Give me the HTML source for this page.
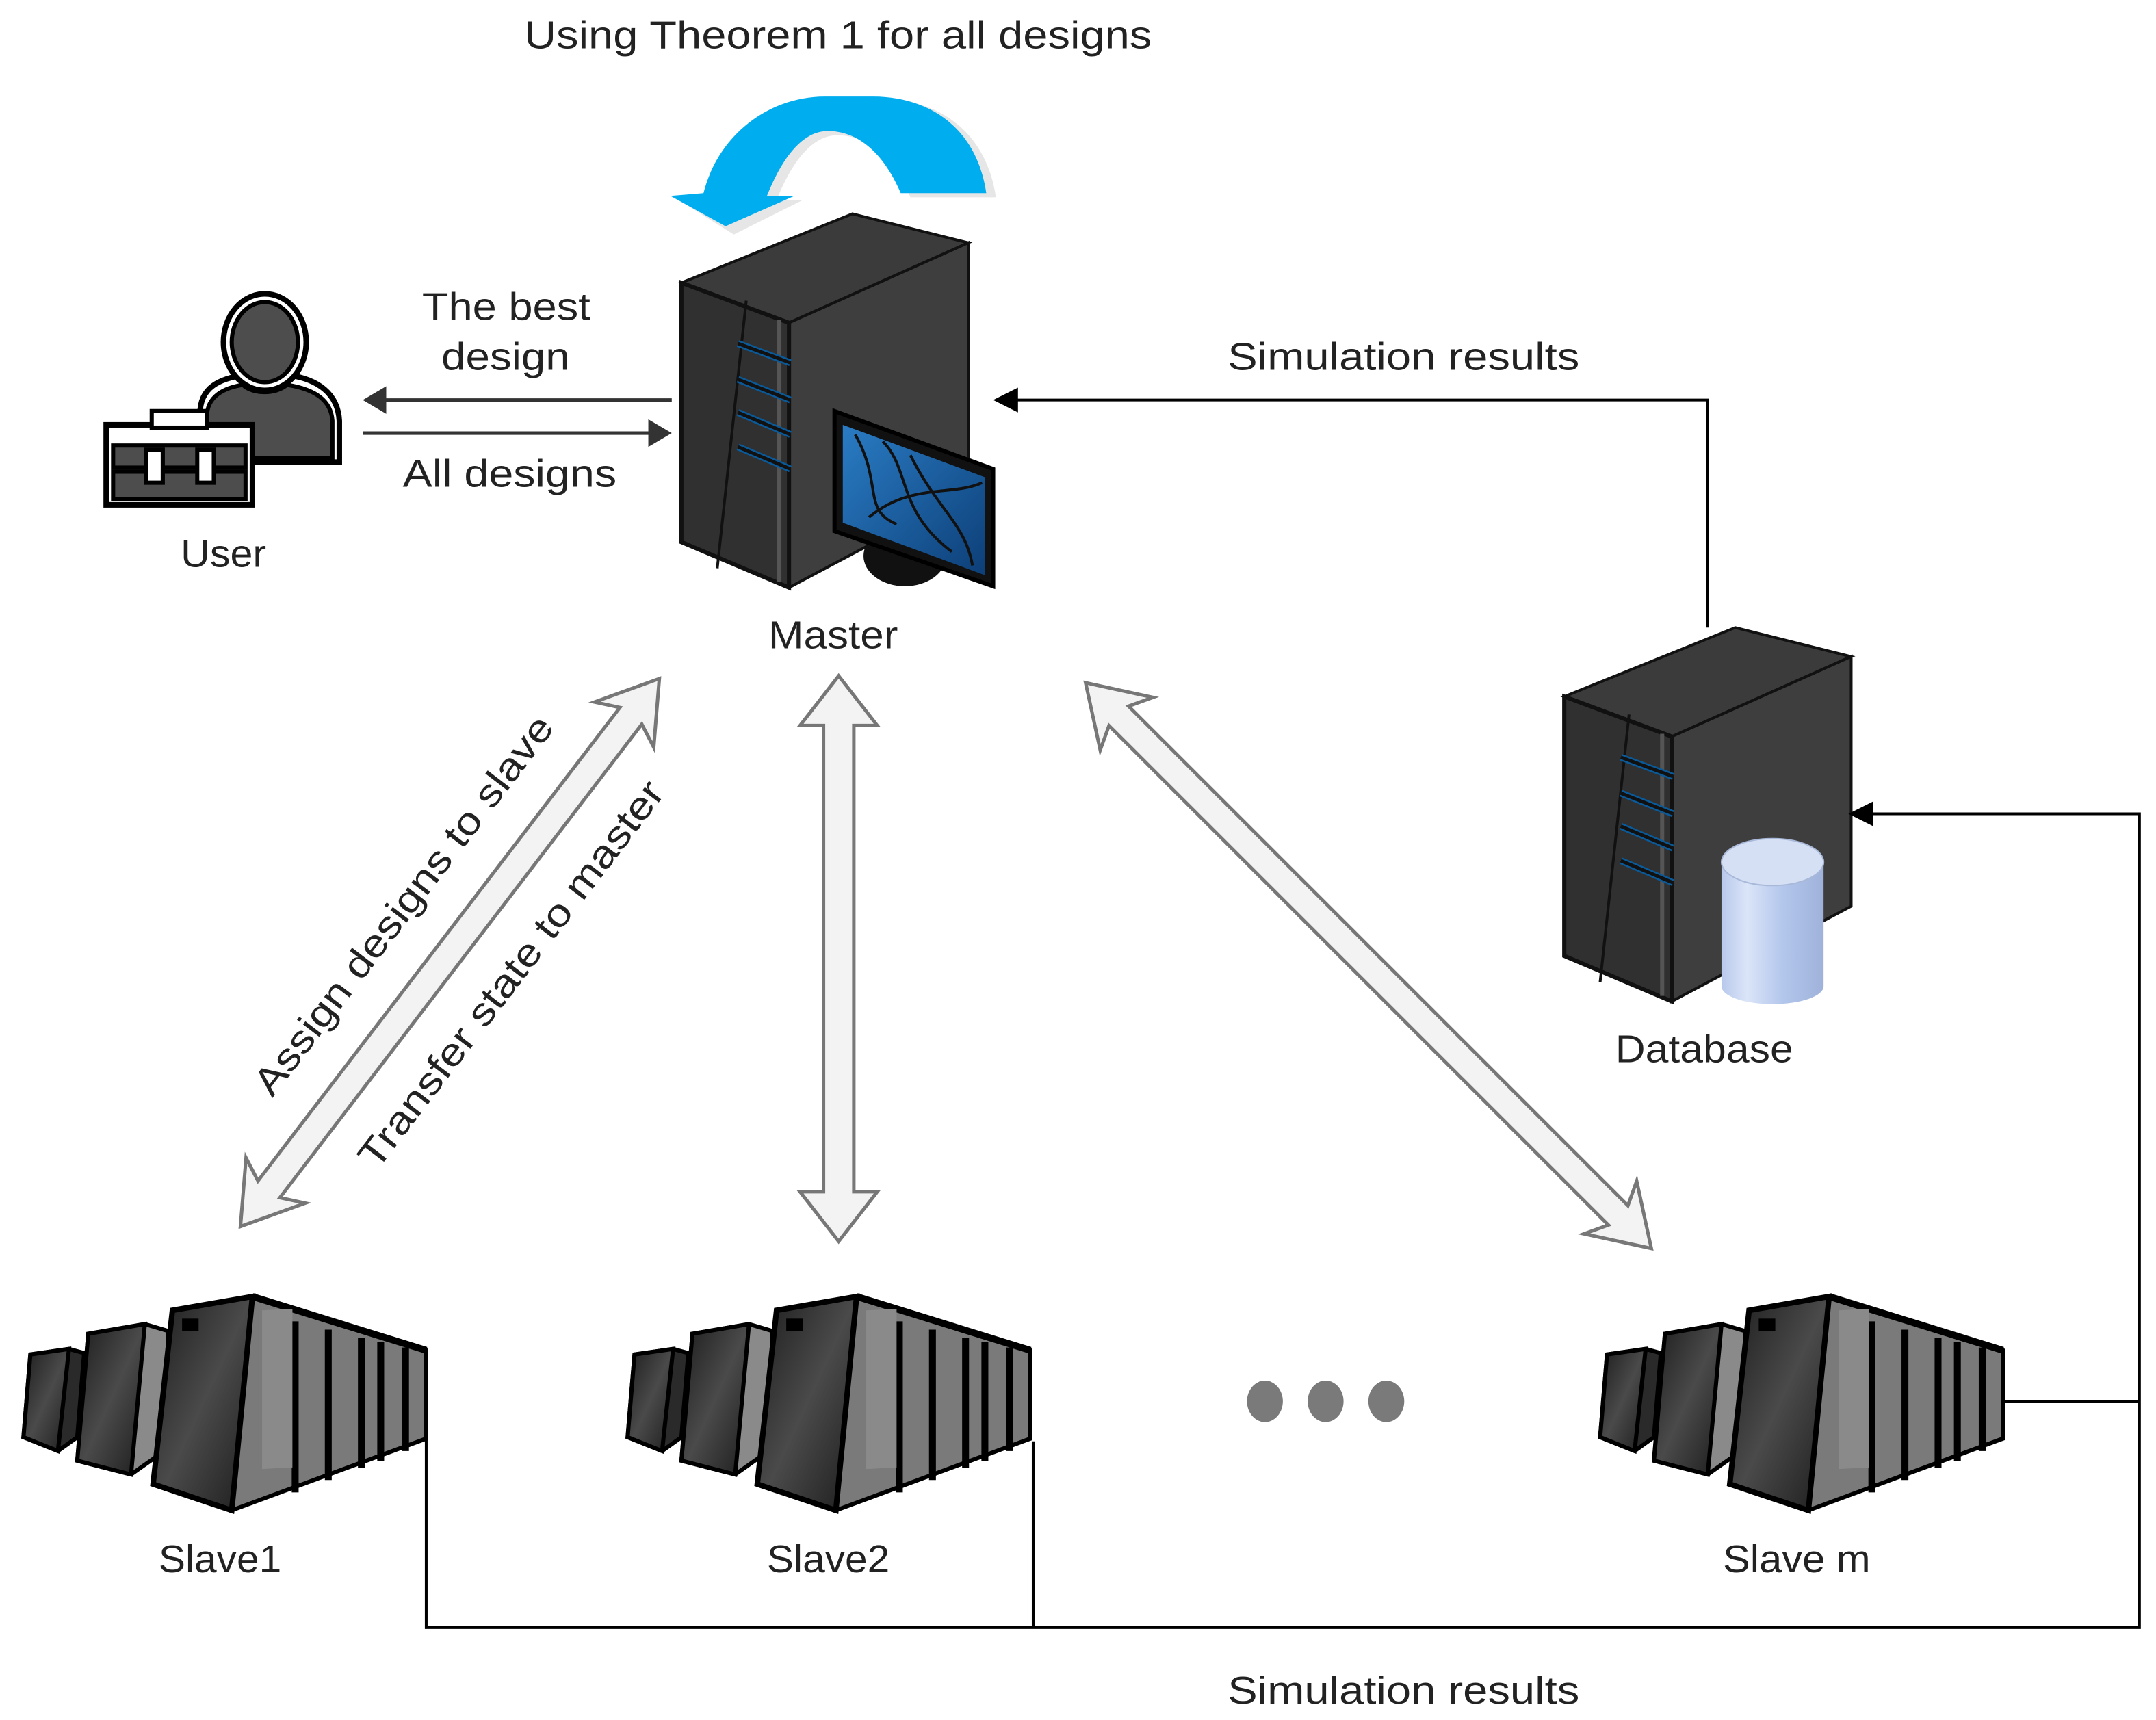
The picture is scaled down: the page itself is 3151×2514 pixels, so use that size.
<!DOCTYPE html>
<html><head><meta charset="utf-8"><style>
html,body{margin:0;padding:0;background:#fff;}
svg{display:block}
text{font-family:"Liberation Sans",sans-serif;fill:#222;}
</style></head><body>
<svg width="3151" height="2514" viewBox="0 0 1563 1247" xmlns="http://www.w3.org/2000/svg">
<defs>
<linearGradient id="rk" x1="0" y1="0" x2="1" y2="1">
<stop offset="0" stop-color="#1c1c1c"/><stop offset="0.5" stop-color="#4a4a4a"/><stop offset="1" stop-color="#1c1c1c"/></linearGradient>
<linearGradient id="cyl" x1="0" y1="0" x2="1" y2="0">
<stop offset="0" stop-color="#b8c8ec"/><stop offset="0.25" stop-color="#dbe5f8"/><stop offset="0.6" stop-color="#b3c6ec"/><stop offset="1" stop-color="#9fb2da"/></linearGradient>
<linearGradient id="scr" x1="0" y1="0" x2="1" y2="1">
<stop offset="0" stop-color="#2a7cc4"/><stop offset="1" stop-color="#0d3f78"/></linearGradient>
<g id="tower">
<polygon points="1139,507 1263,457 1347,478 1217,536" fill="#3b3b3b" stroke="#111" stroke-width="2"/>
<polygon points="1217,536 1347,478 1347,659 1217,728" fill="#3e3e3e" stroke="#111" stroke-width="2"/>
<polygon points="1139,507 1217,536 1217,728 1139,695" fill="#303030" stroke="#111" stroke-width="3"/>
<line x1="1186" y1="520" x2="1165" y2="714" stroke="#111" stroke-width="2"/>
<line x1="1210" y1="534" x2="1210" y2="724" stroke="#555" stroke-width="3"/>
<g stroke="#0a5a9a" stroke-width="5">
<line x1="1180" y1="551" x2="1218" y2="565"/>
<line x1="1180" y1="577" x2="1218" y2="592"/>
<line x1="1180" y1="601" x2="1218" y2="617"/>
<line x1="1180" y1="626" x2="1218" y2="642"/>
</g>
<g stroke="#111" stroke-width="2.5">
<line x1="1180" y1="551" x2="1218" y2="565"/>
<line x1="1180" y1="577" x2="1218" y2="592"/>
<line x1="1180" y1="601" x2="1218" y2="617"/>
<line x1="1180" y1="626" x2="1218" y2="642"/>
</g>
</g>
<g id="slave">
<polygon points="17,1042 22,982 50,978 61,981 56,1042 42,1052" fill="#2a2a2a" stroke="#000" stroke-width="3"/>
<polygon points="22,982 50,978 42,1052 17,1042" fill="url(#rk)" stroke="#000" stroke-width="3"/>
<polygon points="56,1059 64,967 105,960 122,965 122,1050 95,1069" fill="#8a8a8a" stroke="#000" stroke-width="3"/>
<polygon points="64,967 105,960 95,1069 56,1059" fill="url(#rk)" stroke="#000" stroke-width="3"/>
<polygon points="183,940 309,979 309,1043 168,1095" fill="#7a7a7a" stroke="#000" stroke-width="3"/>
<g stroke="#000" stroke-width="5">
<line x1="183" y1="940" x2="309" y2="979"/>
<line x1="214" y1="958" x2="214" y2="1082"/>
<line x1="238" y1="964" x2="238" y2="1073"/>
<line x1="262" y1="970" x2="262" y2="1064"/>
<line x1="276" y1="973" x2="276" y2="1059"/>
<line x1="294" y1="977" x2="294" y2="1052"/>
</g>
<rect x="190" y="960" width="22" height="115" fill="#8a8a8a" transform="skewY(-3)"/>
<polygon points="111,1076 125,950 183,940 168,1095" fill="url(#rk)" stroke="#000" stroke-width="4"/>
<rect x="132" y="956" width="12" height="9" fill="#000"/>
</g>
</defs>

<text x="380" y="35" font-size="28" textLength="455" lengthAdjust="spacingAndGlyphs">Using Theorem 1 for all designs</text>

<!-- blue arc -->
<path d="M 722 143 C 715 95 680 72 640 72 L 605 72 C 565 72 528 100 517 143 L 492 145 L 532 170 L 582 145 L 563 145 C 575 115 590 98 607 98 C 630 98 648 115 660 143 Z" fill="#e6e6e6"/>
<path d="M 715 140 C 708 92 673 70 633 70 L 598 70 C 558 70 521 97 510 140 L 486 142 L 526 164 L 576 142 L 556 142 C 568 112 583 95 600 95 C 623 95 641 112 653 140 Z" fill="#00adef"/>

<!-- user -->
<g stroke="#000" stroke-width="3" fill="#4d4d4d">
<path d="M 145 335 L 145 300 C 145 280 160 275 175 272 L 210 272 C 230 275 245 285 246 305 L 246 335 Z" stroke-width="4" fill="#fff"/>
<path d="M 150 332 L 150 302 C 150 287 163 281 176 279 C 183 286 200 286 208 279 C 228 282 240 290 241 305 L 241 332 Z"/>
<ellipse cx="192" cy="248" rx="30" ry="35" fill="#fff" stroke-width="4"/>
<ellipse cx="192" cy="248" rx="24" ry="29"/>
<rect x="77" y="308" width="106" height="58" fill="#fff" stroke-width="4"/>
<rect x="82" y="323" width="96" height="16"/>
<rect x="82" y="342" width="96" height="20"/>
<rect x="110" y="298" width="40" height="12" fill="#fff"/>
<rect x="106" y="326" width="12" height="24" fill="#fff"/>
<rect x="143" y="326" width="12" height="24" fill="#fff"/>
</g>
<text x="131" y="411" font-size="28" textLength="62" lengthAdjust="spacingAndGlyphs">User</text>

<!-- user-master arrows -->
<line x1="278" y1="290" x2="487" y2="290" stroke="#333" stroke-width="2.5"/>
<polygon points="263,290 280,280 280,300" fill="#333"/>
<line x1="263" y1="314" x2="472" y2="314" stroke="#333" stroke-width="2.5"/>
<polygon points="487,314 470,304 470,324" fill="#333"/>
<text x="306" y="232" font-size="28" textLength="122" lengthAdjust="spacingAndGlyphs">The best</text>
<text x="320" y="268" font-size="28" textLength="93" lengthAdjust="spacingAndGlyphs">design</text>
<text x="292" y="353" font-size="28" textLength="155" lengthAdjust="spacingAndGlyphs">All designs</text>

<!-- master -->
<use href="#tower" transform="translate(-645,-302)"/>
<ellipse cx="656" cy="403" rx="30" ry="22" fill="#111"/>
<polygon points="605,298 720,340 720,425 605,385" fill="#111" stroke="#000" stroke-width="3"/>
<polygon points="611,308 714,346 714,417 611,379" fill="url(#scr)"/>
<path d="M 620 315 C 640 350 625 370 650 380 M 640 320 C 660 340 650 370 690 400 M 630 375 C 660 350 690 360 712 350 M 660 330 C 680 370 700 380 705 410" stroke="#111" stroke-width="2" fill="none"/>
<text x="557" y="470" font-size="28" textLength="94" lengthAdjust="spacingAndGlyphs">Master</text>

<!-- database -->
<use href="#tower" transform="translate(-5,-2)"/>
<path d="M 1248 625 L 1248 715 A 37 13 0 0 0 1322 715 L 1322 625 Z" fill="url(#cyl)"/>
<ellipse cx="1285" cy="625" rx="37" ry="17" fill="#d6e0f5" stroke="#a8b8d8" stroke-width="1"/>
<text x="1171" y="770" font-size="28" textLength="129" lengthAdjust="spacingAndGlyphs">Database</text>

<!-- simulation results top -->
<polyline points="1238,455 1238,290 735,290" fill="none" stroke="#000" stroke-width="2"/>
<polygon points="720,290 738,281 738,299" fill="#000"/>
<text x="890" y="268" font-size="28" textLength="255" lengthAdjust="spacingAndGlyphs">Simulation results</text>

<!-- double arrows -->
<g fill="#f3f3f3" stroke="#777" stroke-width="2.5" stroke-linejoin="miter">
<polygon transform="translate(478,492) rotate(127.4)" points="0,0 42,-27 34,-10 466,-10 458,-27 500,0 458,27 466,10 34,10 42,27"/>
<polygon transform="translate(608,490) rotate(90)" points="0,0 36,-28 36,-11 374,-11 374,-28 410,0 374,28 374,11 36,11 36,28"/>
<polygon transform="translate(787,495) rotate(45)" points="0,0 42,-27 34,-10 546,-10 538,-27 580,0 538,27 546,10 34,10 42,27"/>
</g>
<text font-size="28" text-anchor="middle" textLength="338" lengthAdjust="spacingAndGlyphs" transform="translate(300,662) rotate(-52.6)">Assign designs to slave</text>
<text font-size="28" text-anchor="middle" textLength="345" lengthAdjust="spacingAndGlyphs" transform="translate(378,712) rotate(-52.6)">Transfer state to master</text>

<!-- slaves -->
<use href="#slave"/>
<use href="#slave" transform="translate(438,0)"/>
<use href="#slave" transform="translate(1143,0)"/>
<text x="115" y="1140" font-size="28" textLength="89" lengthAdjust="spacingAndGlyphs">Slave1</text>
<text x="556" y="1140" font-size="28" textLength="89" lengthAdjust="spacingAndGlyphs">Slave2</text>
<text x="1249" y="1140" font-size="28" textLength="107" lengthAdjust="spacingAndGlyphs">Slave m</text>

<g fill="#7a7a7a">
<ellipse cx="917" cy="1016" rx="13" ry="15"/>
<ellipse cx="961" cy="1016" rx="13" ry="15"/>
<ellipse cx="1005" cy="1016" rx="13" ry="15"/>
</g>

<!-- bottom connectors -->
<polyline points="309,1040 309,1180 1551,1180 1551,590 1355,590" fill="none" stroke="#000" stroke-width="2"/>
<line x1="749" y1="1045" x2="749" y2="1180" stroke="#000" stroke-width="2"/>
<line x1="1452" y1="1016" x2="1551" y2="1016" stroke="#000" stroke-width="2"/>
<polygon points="1340,590 1358,581 1358,599" fill="#000"/>
<text x="890" y="1235" font-size="28" textLength="255" lengthAdjust="spacingAndGlyphs">Simulation results</text>
</svg>
</body></html>
